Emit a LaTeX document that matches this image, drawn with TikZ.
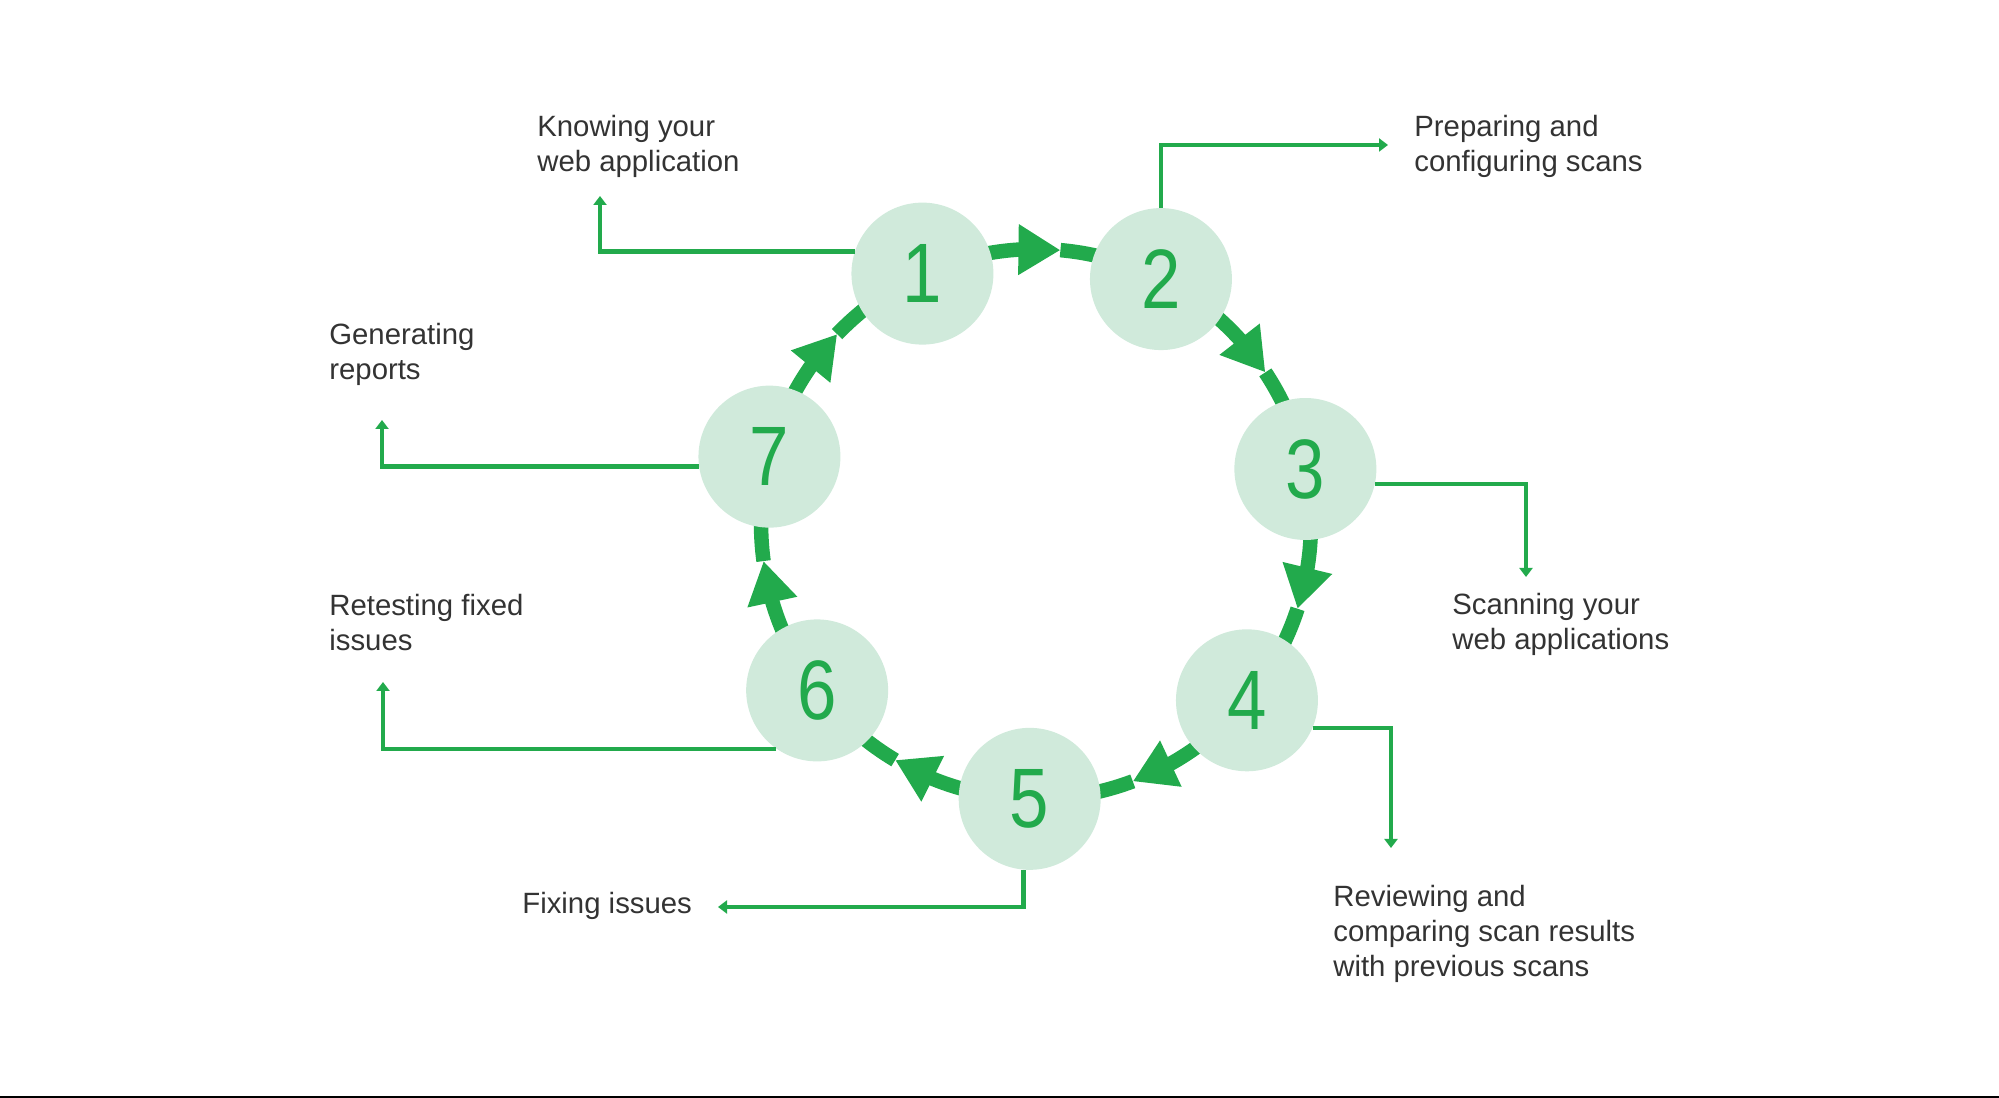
\documentclass[tikz,border=0pt]{standalone}
\usepackage{fontspec}
\setmainfont{Liberation Sans}
\newfontfamily\numfont[FakeStretch=0.84]{Liberation Sans}
\usetikzlibrary{arrows.meta,backgrounds,bending}
\definecolor{Leaf}{RGB}{34,170,76}
\definecolor{Mint}{RGB}{208,234,219}
\definecolor{Ink}{RGB}{51,51,51}

\begin{document}
\begin{tikzpicture}[x=.02cm,y=.02cm,
 num/.style={circle,fill=Mint,minimum size=2.84cm,inner sep=0pt,text=Leaf,font=\numfont\fontsize{48}{48}\selectfont},
 lbl/.style={anchor=base west,align=left,inner sep=0pt,text=Ink,font=\fontsize{16.7}{20}\selectfont},
 lead/.style={draw=Leaf,line width=.09cm,-{Triangle[length=.18cm,width=.26cm]}},
 ring/.style={draw=Leaf,line width=.29cm},
 ringtip/.style={ring,-{Triangle[length=.84cm,width=.96cm]}}]
\useasboundingbox (0,0) rectangle (1999,1098);
\fill[black] (0,0) rectangle (1999,2);
\coordinate (ring) at (1036,574);
% the seven steps
\node[num] (c1) at ([shift={(114.4:5.5cm)}]ring) {1};
\node[num] (c2) at ([shift={(62.97:5.5cm)}]ring) {2};
\node[num] (c3) at ([shift={(11.54:5.5cm)}]ring) {3};
\node[num] (c4) at ([shift={(-39.89:5.5cm)}]ring) {4};
\node[num] (c5) at ([shift={(-91.32:5.5cm)}]ring) {5};
\node[num] (c6) at ([shift={(-142.75:5.5cm)}]ring) {6};
\node[num] (c7) at ([shift={(-194.18:5.5cm)}]ring) {7};
% labels (placed at the baseline of their last line)
\node[lbl] (know) at (537,926) {Knowing your\\web application};
\node[lbl] (prep) at (1414,926) {Preparing and\\configuring scans};
\node[lbl] (scan) at (1452,448) {Scanning your\\web applications};
\node[lbl] (review) at (1333,121) {Reviewing and\\comparing scan results\\with previous scans};
\node[lbl] (fix) at (522,184) {Fixing issues};
\node[lbl] (retest) at (329,447) {Retesting fixed\\issues};
\node[lbl] (report) at (329,718) {Generating\\reports};
% leader ends
\coordinate (e1) at (600,902);
\coordinate (e2) at (1388,953);
\coordinate (e3) at (1526,521);
\coordinate (e4) at (1391,250);
\coordinate (e5) at (718,191);
\coordinate (e6) at (383,416);
\coordinate (e7) at (382,678);
\draw[lead] (c1.162) -| (e1);
\draw[lead] (c2.north) |- (e2);
\draw[lead] (c3.-12) -| (e3);
\draw[lead] (c4.-23) -| (e4);
\draw[lead] (c5.265) |- (e5);
\draw[lead] (c6.235) -| (e6);
\draw[lead] (c7.188) -| (e7);
% cycle arrows
\begin{scope}[on background layer]
\foreach \s/\e in {1/2,2/3,3/4,4/5,5/6,6/7,7/1}{
  \pgfmathsetmacro\ang{114.4-51.43*(\s-1)}
  \draw[ringtip] (c\s.center) arc[start angle=\ang,end angle=\ang-29.5,radius=5.5cm];
  \draw[ring] (c\e.center) arc[start angle=\ang-51.43,end angle=\ang-29.5,radius=5.5cm];
}
\end{scope}
\end{tikzpicture}
\end{document}
